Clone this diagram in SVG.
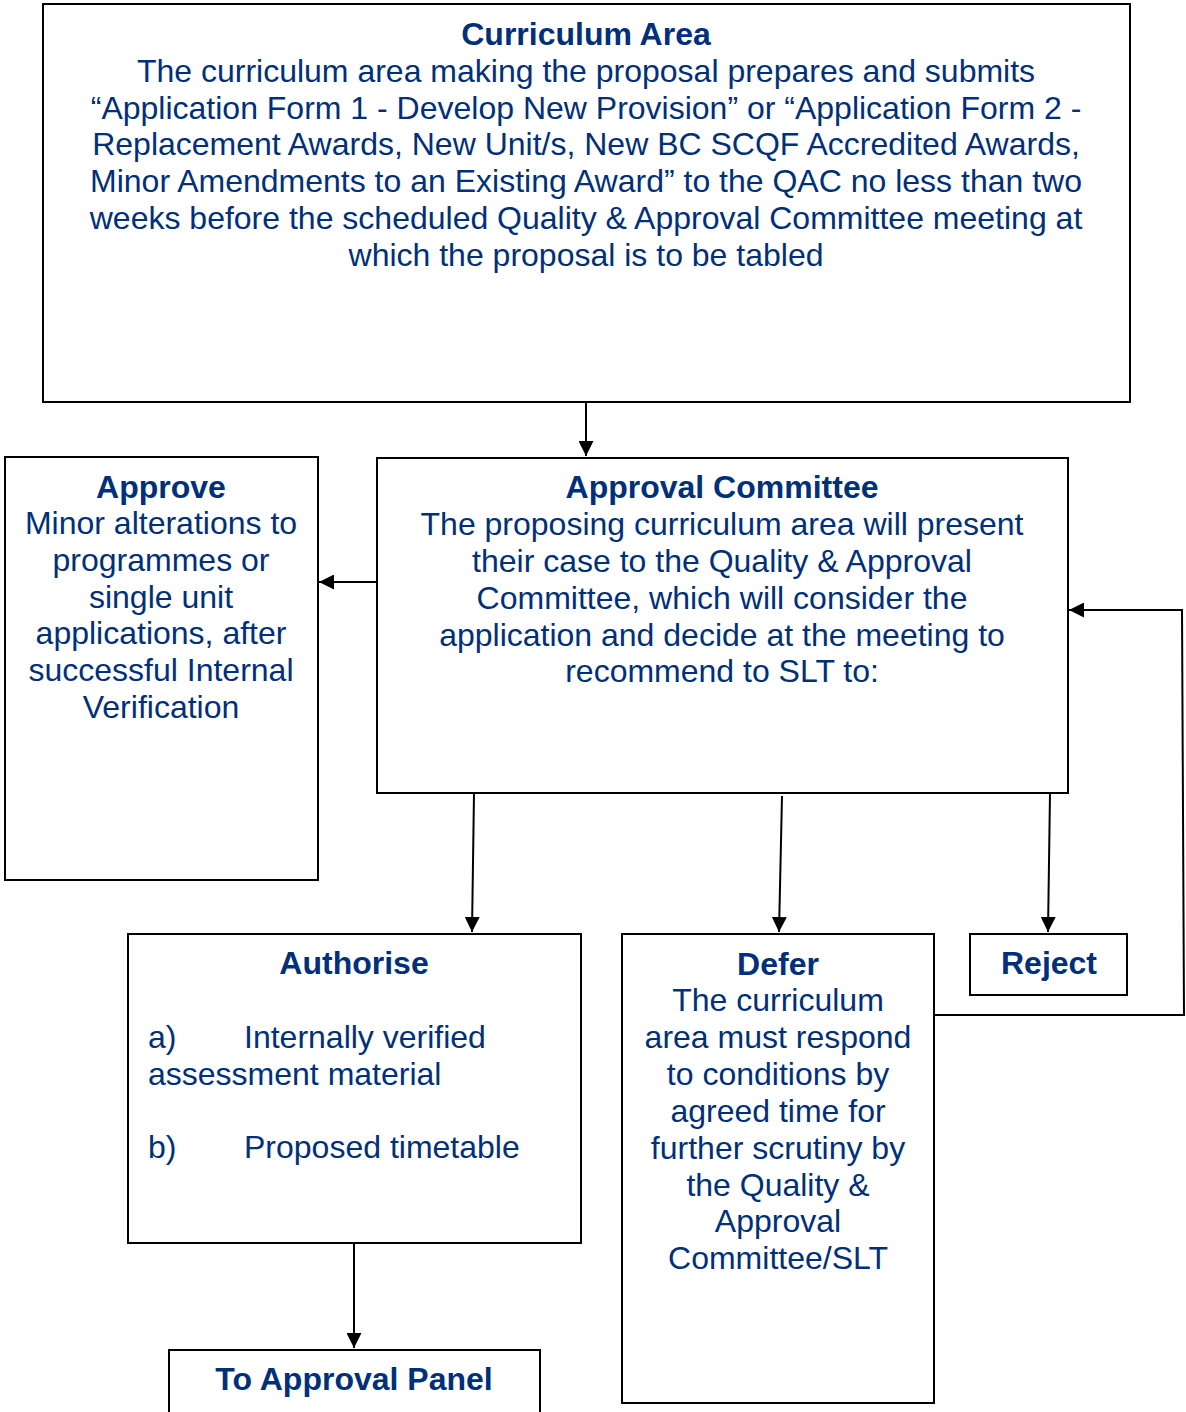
<svg xmlns="http://www.w3.org/2000/svg" width="1186" height="1412" viewBox="0 0 1186 1412">
<style>
.box{fill:#fff;stroke:#000;stroke-width:2}
text{font-family:"Liberation Sans",Arial,sans-serif;font-size:32px;fill:#00307a}
.c{text-anchor:middle}
.b{font-weight:bold}
.ln{fill:none;stroke:#000;stroke-width:2}
</style>
<defs>
<marker id="ah" viewBox="0 0 10 10" refX="10" refY="5" markerWidth="15" markerHeight="15" markerUnits="userSpaceOnUse" orient="auto">
<path d="M0,0 L10,5 L0,10 z" fill="#000"/>
</marker>
</defs>
<rect width="1186" height="1412" fill="#fff"/>
<g id="connectors">
<line class="ln" x1="586" y1="402" x2="586" y2="456" marker-end="url(#ah)"/>
<line class="ln" x1="376" y1="582" x2="319" y2="582" marker-end="url(#ah)"/>
<line class="ln" x1="474" y1="793" x2="472" y2="932" marker-end="url(#ah)"/>
<line class="ln" x1="782" y1="796" x2="779" y2="932" marker-end="url(#ah)"/>
<line class="ln" x1="1050" y1="793" x2="1048" y2="932" marker-end="url(#ah)"/>
<polyline class="ln" points="934,1015 1184,1015 1182,610 1069,610" marker-end="url(#ah)"/>
<line class="ln" x1="354" y1="1243" x2="354" y2="1348" marker-end="url(#ah)"/>
</g>
<g id="curriculum-area">
<rect class="box" x="43" y="4" width="1087" height="398"/>
<text class="c b" x="586" y="45">Curriculum Area</text>
<text class="c" x="586" y="82">The curriculum area making the proposal prepares and submits</text>
<text class="c" x="586" y="119">“Application Form 1 - Develop New Provision” or “Application Form 2 -</text>
<text class="c" x="586" y="155">Replacement Awards, New Unit/s, New BC SCQF Accredited Awards,</text>
<text class="c" x="586" y="192">Minor Amendments to an Existing Award” to the QAC no less than two</text>
<text class="c" x="586" y="229">weeks before the scheduled Quality &amp; Approval Committee meeting at</text>
<text class="c" x="586" y="266">which the proposal is to be tabled</text>
</g>
<g id="approve">
<rect class="box" x="5" y="457" width="313" height="423"/>
<text class="c b" x="161" y="498">Approve</text>
<text class="c" x="161" y="534">Minor alterations to</text>
<text class="c" x="161" y="571">programmes or</text>
<text class="c" x="161" y="608">single unit</text>
<text class="c" x="161" y="644">applications, after</text>
<text class="c" x="161" y="681">successful Internal</text>
<text class="c" x="161" y="718">Verification</text>
</g>
<g id="approval-committee">
<rect class="box" x="377" y="458" width="691" height="335"/>
<text class="c b" x="722" y="498">Approval Committee</text>
<text class="c" x="722" y="535">The proposing curriculum area will present</text>
<text class="c" x="722" y="572">their case to the Quality &amp; Approval</text>
<text class="c" x="722" y="609">Committee, which will consider the</text>
<text class="c" x="722" y="646">application and decide at the meeting to</text>
<text class="c" x="722" y="682">recommend to SLT to:</text>
</g>
<g id="authorise">
<rect class="box" x="128" y="934" width="453" height="309"/>
<text class="c b" x="354" y="974">Authorise</text>
<text x="148" y="1048">a)</text>
<text x="244" y="1048">Internally verified</text>
<text x="148" y="1085">assessment material</text>
<text x="148" y="1158">b)</text>
<text x="244" y="1158">Proposed timetable</text>
</g>
<g id="defer">
<rect class="box" x="622" y="934" width="312" height="469"/>
<text class="c b" x="778" y="975">Defer</text>
<text class="c" x="778" y="1011">The curriculum</text>
<text class="c" x="778" y="1048">area must respond</text>
<text class="c" x="778" y="1085">to conditions by</text>
<text class="c" x="778" y="1122">agreed time for</text>
<text class="c" x="778" y="1159">further scrutiny by</text>
<text class="c" x="778" y="1196">the Quality &amp;</text>
<text class="c" x="778" y="1232">Approval</text>
<text class="c" x="778" y="1269">Committee/SLT</text>
</g>
<g id="reject">
<rect class="box" x="970" y="934" width="157" height="61"/>
<text class="c b" x="1049" y="974">Reject</text>
</g>
<g id="to-approval-panel">
<rect class="box" x="169" y="1350" width="371" height="70"/>
<text class="c b" x="354" y="1390">To Approval Panel</text>
</g>
</svg>
